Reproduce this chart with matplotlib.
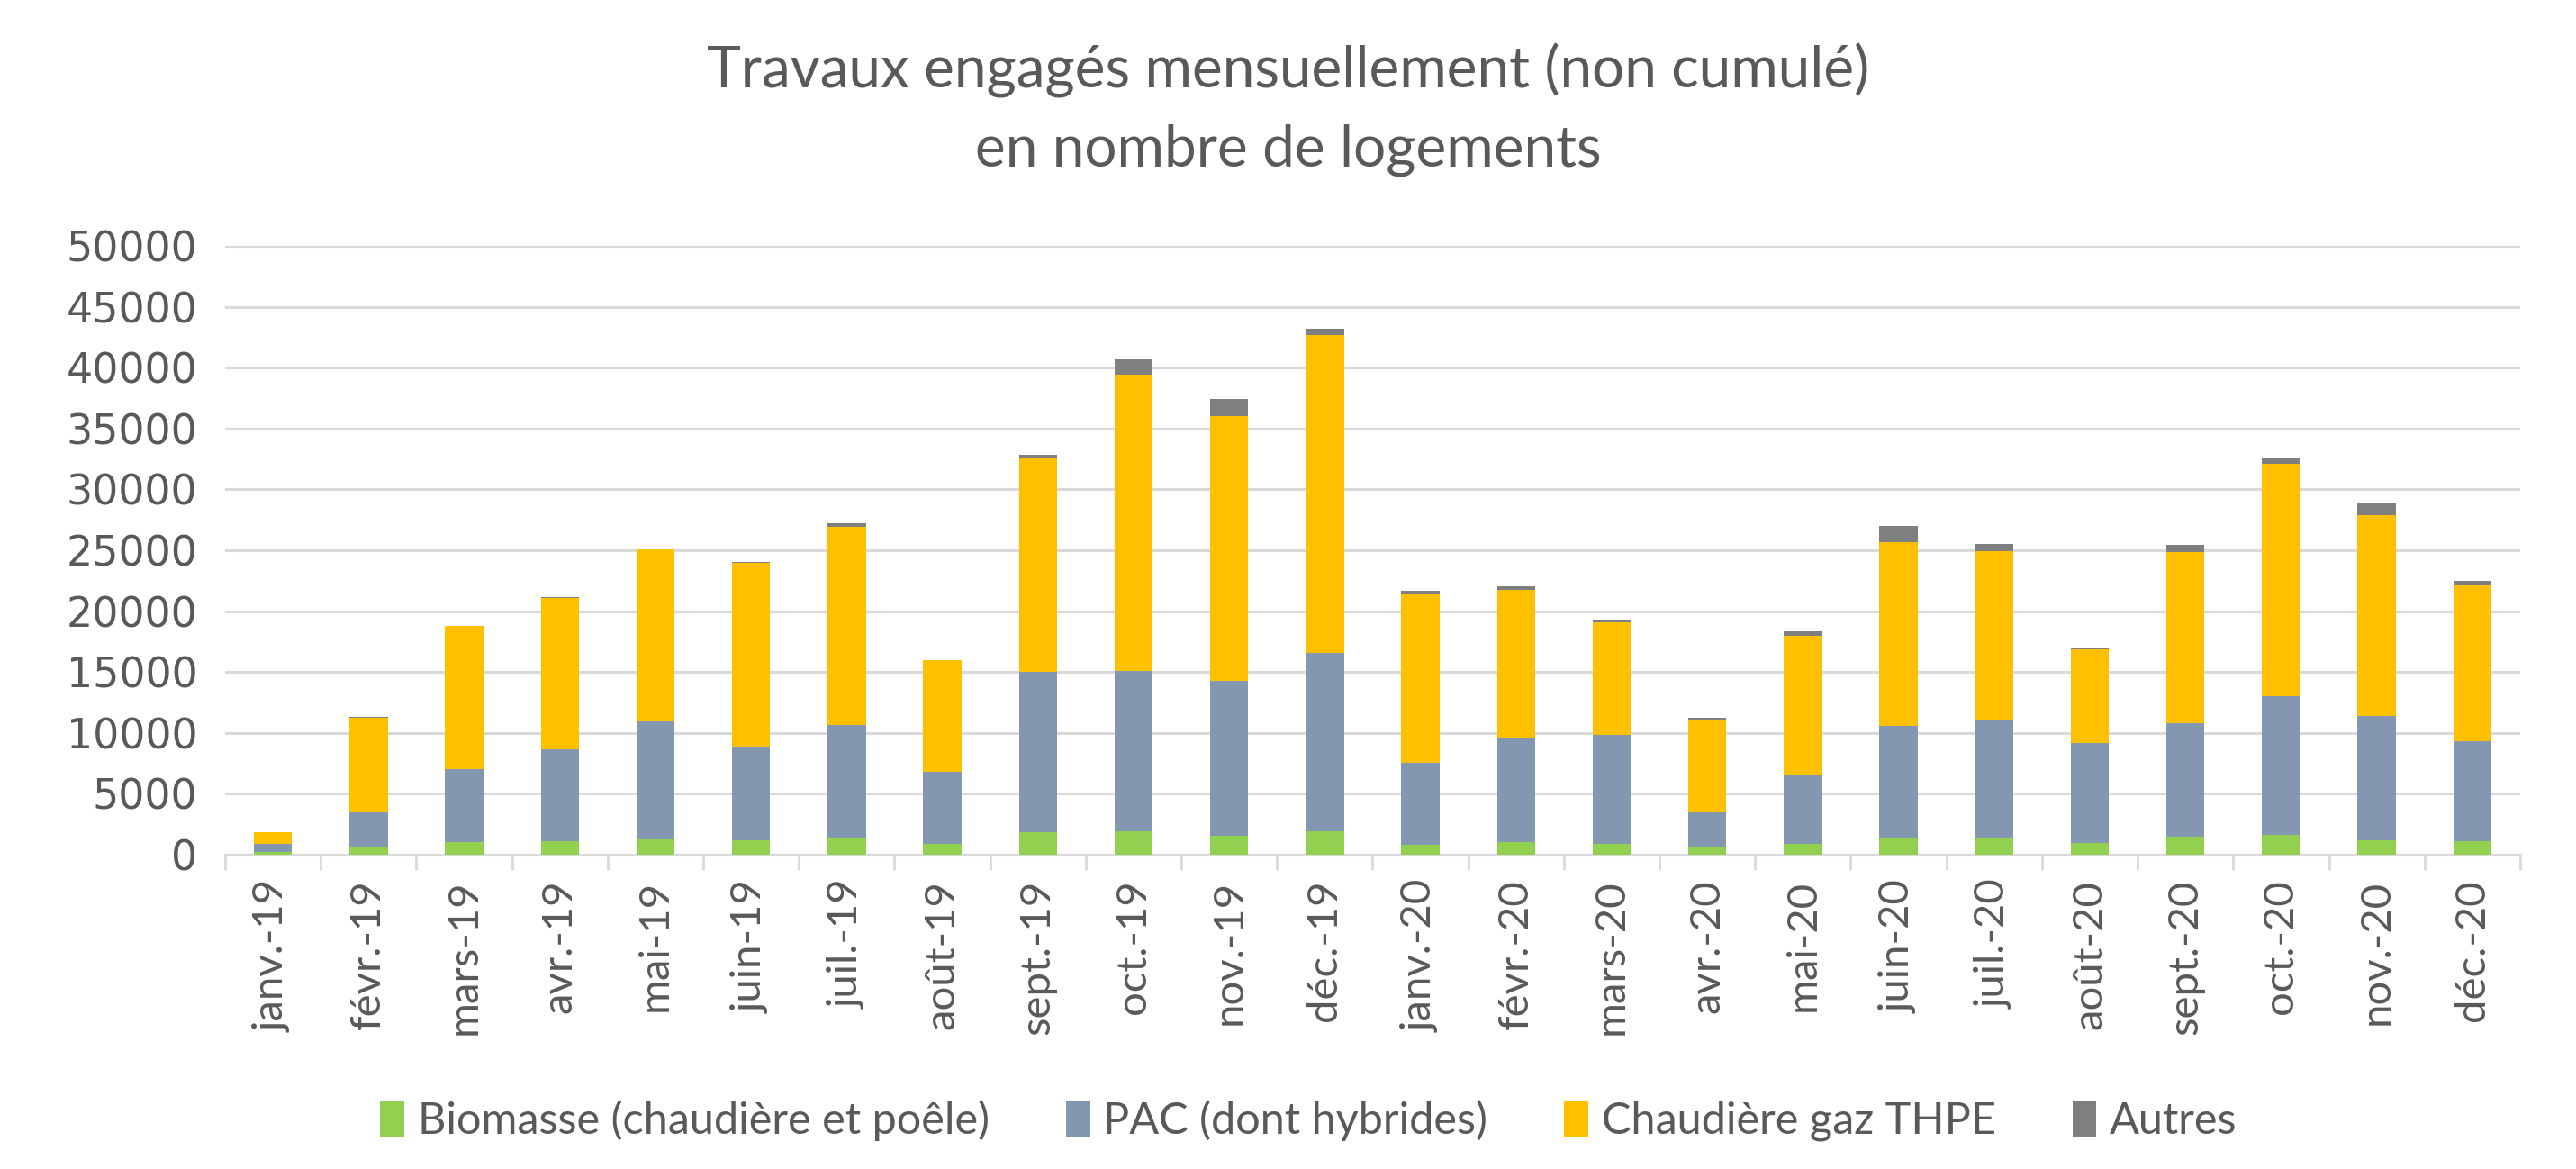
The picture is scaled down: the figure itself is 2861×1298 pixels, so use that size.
import numpy as np
import matplotlib.pyplot as plt

months = ['janv.-19', 'févr.-19', 'mars-19', 'avr.-19', 'mai-19', 'juin-19',
          'juil.-19', 'août-19', 'sept.-19', 'oct.-19', 'nov.-19', 'déc.-19',
          'janv.-20', 'févr.-20', 'mars-20', 'avr.-20', 'mai-20', 'juin-20',
          'juil.-20', 'août-20', 'sept.-20', 'oct.-20', 'nov.-20', 'déc.-20']

biomasse = [250, 650, 1000, 1100, 1250, 1150, 1300, 850, 1850, 1900, 1550, 1900,
            800, 1000, 900, 600, 900, 1300, 1300, 950, 1450, 1600, 1200, 1100]
pac = [600, 2800, 6050, 7550, 9700, 7700, 9350, 5950, 13150, 13200, 12700, 14650,
       6750, 8600, 8900, 2850, 5600, 9250, 9700, 8200, 9350, 11400, 10200, 8250]
gaz = [980, 7800, 11700, 12450, 14100, 15100, 16250, 9150, 17650, 24350, 21800, 26100,
       13900, 12150, 9250, 7550, 11450, 15150, 13900, 7700, 14050, 19100, 16450, 12800]
autres = [50, 50, 50, 50, 50, 50, 300, 50, 170, 1250, 1350, 550,
          240, 300, 270, 270, 370, 1320, 610, 170, 580, 510, 1020, 340]

series = [
    ('Biomasse (chaudière et poêle)', biomasse, '#92D050'),
    ('PAC (dont hybrides)', pac, '#8497B0'),
    ('Chaudière gaz THPE', gaz, '#FFC000'),
    ('Autres', autres, '#7F7F7F'),
]

plt.rcParams['font.family'] = ['Lato', 'DejaVu Sans']
txt = '#595959'

fig = plt.figure(figsize=(28.61, 12.98), dpi=100)
ax = fig.add_axes([0.0874, 0.2689, 0.8909, 0.5208])

x = np.arange(len(months))
bottom = np.zeros(len(months))
for label, vals, color in series:
    ax.bar(x, vals, width=0.4, bottom=bottom, color=color, label=label, zorder=3)
    bottom += np.array(vals)

ax.set_ylim(0, 50000)
ax.set_xlim(-0.5, len(months) - 0.5)
ax.set_yticks(range(0, 50001, 5000))
ax.set_yticklabels([str(v) for v in range(0, 50001, 5000)],
                   family='DejaVu Sans', fontsize=33, color=txt)
ax.grid(axis='y', color='#D9D9D9', linewidth=2.2, zorder=0)
ax.tick_params(axis='y', length=0, pad=22)

ax.set_xticks(x)
ax.set_xticklabels(months, rotation=90, fontsize=34, color=txt)
ax.set_xticks(np.arange(-0.5, len(months)), minor=True)
ax.tick_params(axis='x', which='major', length=0, pad=20)
ax.tick_params(axis='x', which='minor', length=12, width=2, color='#D9D9D9', direction='out')

for s in ['top', 'right', 'left']:
    ax.spines[s].set_visible(False)
ax.spines['bottom'].set_color('#D9D9D9')
ax.spines['bottom'].set_linewidth(2.2)

fig.text(0.5, 0.906, 'Travaux engagés mensuellement (non cumulé)\nen nombre de logements',
         ha='center', va='center', fontsize=46, color=txt, linespacing=1.62)

fig.legend(loc='center', bbox_to_anchor=(0.508, 0.0415), ncol=4, frameon=False,
           fontsize=35, labelcolor=txt, handlelength=0.55, handleheight=0.9,
           handletextpad=0.3, columnspacing=1.75)

fig.savefig('out.png', dpi=100)
